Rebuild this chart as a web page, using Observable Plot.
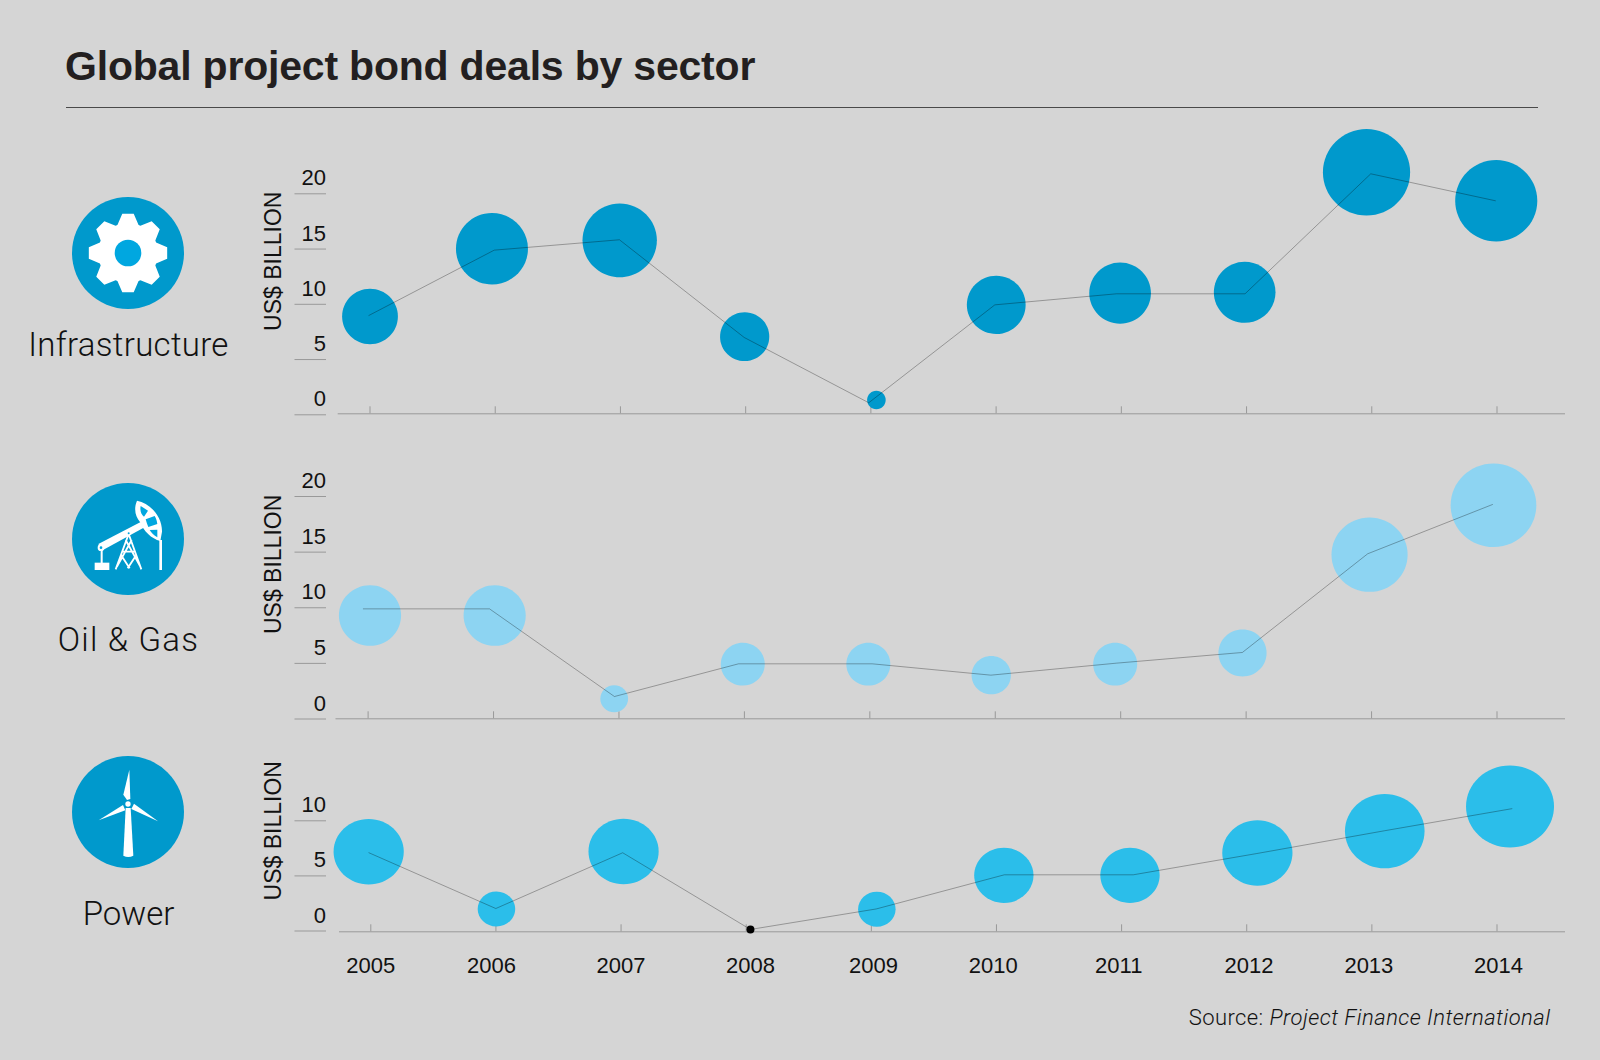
<!DOCTYPE html>
<html>
<head>
<meta charset="utf-8">
<script src="https://cdn.jsdelivr.net/npm/d3@7"></script>
<script src="https://cdn.jsdelivr.net/npm/@observablehq/plot@0.6"></script>
<style>
  html, body { margin: 0; padding: 0; background: #d5d5d5; }
  #page { position: relative; width: 1600px; height: 1060px; background: #d5d5d5; overflow: hidden; color: #111; font-family: "Liberation Sans", sans-serif; }
  #title { position: absolute; left: 65px; top: 43px; margin: 0; font: bold 41px/46px "Liberation Sans", sans-serif; letter-spacing: -0.2px; color: #231f20; white-space: nowrap; }
  #rule { position: absolute; left: 66px; top: 107px; width: 1472px; height: 1px; background: #4a4a4a; }
  .sector { position: absolute; width: 240px; left: 8.5px; text-align: center; font: 300 33px/40px Roboto, sans-serif; color: #111; white-space: nowrap; }
  #source { position: absolute; right: 49.5px; top: 1004px; font: 300 22px/28px Roboto, sans-serif; letter-spacing: 0.4px; color: #111; white-space: nowrap; }
  #source i { letter-spacing: 0.47px; }
  .panel { position: absolute; left: 0; }
  .icon { position: absolute; left: 68.3px; width: 120px; height: 120px; }
</style>
</head>
<body>
<div id="page">
  <h1 id="title">Global project bond deals by sector</h1>
  <div id="rule"></div>

  <svg class="icon" id="gearIcon" style="top:193px" viewBox="-60 -60 120 120"></svg>
  <div class="sector" style="top:325px; letter-spacing:0.3px">Infrastructure</div>

  <svg class="icon" style="top:479px" viewBox="0 0 360 360">
    <circle cx="180" cy="180" r="168" fill="#0099cc"/>
    <g transform="translate(-85,-57)">
      <rect x="165" y="308" width="44" height="22" fill="#fff"/>
      <rect x="183" y="268" width="6" height="42" fill="#fff"/>
      <path d="M176 252 L303 186 L312 203 L190 270 Z" fill="#fff"/>
      <circle cx="184" cy="263" r="10" fill="#fff"/>
      <circle cx="184" cy="263" r="4" fill="#00a7e0"/>
      <path d="M292 122 C332 130 368 170 367 215 L362 243 C335 236 312 214 301 186 C288 170 281 148 292 122 Z" fill="#fff"/>
      <path d="M303 138 L325 152 L313 170 C305 164 300 152 303 138 Z M318 178 L345 168 C350 176 352 184 353 192 L326 201 C323 194 320 186 318 178 Z M330 210 L353 209 L353 232 C343 226 335 218 330 210 Z" fill="#00a7e0"/>
      <rect x="359" y="240" width="8" height="90" fill="#fff"/>
      <path d="M267 222 L228 328 M267 222 L305 328 M258 240 L302 320 M276 240 L232 320 M244 285 L270 325 M290 285 L264 325 M247 275 L287 275" stroke="#fff" stroke-width="5.5" fill="none"/>
      <circle cx="267" cy="220" r="7" fill="#fff"/>
      <circle cx="267" cy="220" r="3" fill="#00a7e0"/>
    </g>
  </svg>
  <div class="sector" style="top:620px; letter-spacing:1.2px">Oil &amp; Gas</div>

  <svg class="icon" style="top:752.3px" viewBox="0 0 360 360">
    <circle cx="180" cy="180" r="168" fill="#0099cc"/>
    <g transform="translate(-85,-37)" fill="#fff">
      <path d="M258 205 L273 205 L281 348 Q266 356 251 348 Z"/>
      <path d="M269 90 L272 178 L262 181 L251 165 Z"/>
      <path d="M177 242 L250 196 L257 212 Z"/>
      <path d="M355 245 L283 192 L275 208 Z"/>
      <circle cx="265" cy="193" r="8"/>
    </g>
  </svg>
  <div class="sector" style="top:894px">Power</div>

  <div class="panel" id="p1" style="top:110px"></div>
  <div class="panel" id="p2" style="top:440px"></div>
  <div class="panel" id="p3" style="top:740px"></div>

  <div id="source">Source: <i>Project Finance International</i></div>
</div>
<script>
// Data ----------------------------------------------------------------------
const years = [2005, 2006, 2007, 2008, 2009, 2010, 2011, 2012, 2013, 2014];
const yearLabels = ["2005", "2006", "2007", "2008", "2009", "2010", "2011", "2012", "2013", "2014"];
const yearLabelAt = [2005.0, 2005.965, 2006.999, 2008.035, 2009.018, 2009.974, 2010.977, 2012.018, 2012.976, 2014.012];

// Deal values (US$ billion) — these size the bubbles
const infraValues = [9, 15, 16, 7, 1, 10, 11, 11, 22, 19.5];
const oilValues = [10, 10, 2, 5, 5, 4, 5, 6, 15, 19];
const powerValues = [7, 2, 7, 0, 2, 5, 5, 7, 9, 11];

// The connecting line, as drawn in the original (year, US$ billion)
const infraLineYear = [2004.991, 2005.992, 2006.992, 2007.988, 2008.983, 2009.99, 2010.961, 2011.988, 2012.992, 2013.987];
const infraLineValue = [8.99, 14.9, 15.84, 7.0, 1.09, 9.95, 10.95, 10.95, 21.81, 19.37];
const oilLineYear = [2004.962, 2005.968, 2006.964, 2007.953, 2009.019, 2009.965, 2010.967, 2011.97, 2012.969, 2013.964];
const oilLineValue = [9.9, 9.9, 2.02, 4.96, 4.96, 3.94, 5.02, 5.98, 14.85, 19.28];
const powerLineYear = [2004.985, 2005.999, 2007.013, 2008.034, 2009.039, 2010.063, 2011.093, 2012.081, 2013.103, 2014.119];
const powerLineValue = [7.1, 2.04, 7.1, 0.14, 2.0, 5.1, 5.1, 7.03, 9.1, 11.1];

// The bubble centres, as drawn in the original (year, US$ billion)
const infraBubbleYear = [2005, 2005.974, 2006.994, 2007.992, 2009.044, 2010.001, 2010.99, 2011.985, 2012.958, 2013.994];
const infraBubbleLevel = [8.9, 15.03, 15.79, 7.07, 1.34, 9.95, 11.02, 11.09, 21.95, 19.37];
const oilBubbleYear = [2005.015, 2006.009, 2006.962, 2007.987, 2008.988, 2009.968, 2010.956, 2011.971, 2012.984, 2013.972];
const oilBubbleLevel = [9.3, 9.3, 1.82, 4.93, 4.93, 3.94, 4.93, 5.93, 14.77, 19.21];
const powerBubbleYear = [2004.983, 2006.004, 2007.02, 2008.034, 2009.044, 2010.059, 2011.067, 2012.085, 2013.103, 2014.104];
const powerBubbleLevel = [7.19, 2.0, 7.21, 0.14, 1.98, 5.05, 5.05, 7.08, 9.06, 11.3];

const ticksFull = [0, 5, 10, 15, 20];
const ticksShort = [0, 5, 10];

// Helpers -------------------------------------------------------------------
const textFont = "'Liberation Sans', sans-serif";
const rows = (xs, ys, vs) => xs.map((x, i) => ({x, y: ys[i], v: vs ? vs[i] : null}));

// An ellipse symbol: the original's bubbles were stretched a little per panel
function ellipseSymbol(aspect) {
  return {
    draw(ctx, size) {
      const ry = Math.sqrt(size / Math.PI), rx = ry * aspect, k = 0.5523;
      ctx.moveTo(-rx, 0);
      ctx.bezierCurveTo(-rx, -k * ry, -k * rx, -ry, 0, -ry);
      ctx.bezierCurveTo(k * rx, -ry, rx, -k * ry, rx, 0);
      ctx.bezierCurveTo(rx, k * ry, k * rx, ry, 0, ry);
      ctx.bezierCurveTo(-k * rx, ry, -rx, k * ry, -rx, 0);
      ctx.closePath();
    }
  };
}

function panel(o) {
  const marks = [
    Plot.frame({anchor: "bottom", stroke: "#999", strokeWidth: 1}),
    Plot.axisX({ticks: years, tickSize: -7, stroke: "#999", fill: "none", label: null}),
    Plot.axisY({ticks: o.yTicks, tickSize: 31.5, dx: 326 - o.left, stroke: "#999", fill: "none", label: null}),
    Plot.axisY({
      ticks: o.yTicks, tickSize: 0, tickPadding: 0, dx: 325.5 - o.left, dy: -8.5,
      fill: "#111", label: null, fontSize: 22, lineAnchor: "bottom"
    }),
    Plot.dot(rows(o.bubbleYear, o.bubbleLevel, o.values), {
      x: "x", y: "y", r: "v", fill: o.color, stroke: "none", symbol: ellipseSymbol(o.aspect)
    }),
    Plot.text(["US$ BILLION"], {
      frameAnchor: "left", y: o.labelLevel, dx: 280 - o.left, rotate: -90, textAnchor: "middle",
      lineAnchor: "bottom", fontSize: 23, fill: "#111"
    }),
    Plot.line(rows(o.lineYear, o.lineValue), {
      x: "x", y: "y", stroke: "#000", strokeOpacity: 0.38, strokeWidth: 0.8
    })
  ];
  return Plot.plot({
    width: 1600, height: o.height,
    marginLeft: o.left, marginRight: 36, marginTop: 0, marginBottom: o.bottom,
    style: {background: "transparent", fontFamily: textFont, overflow: "visible"},
    x: {domain: [2005, 2014], range: o.xRange, axis: null},
    y: {domain: o.yDomain, range: o.yRange, axis: null},
    r: {domain: o.rDomain, range: o.rRange},
    marks: [...marks, ...(o.after || [])]
  });
}

document.getElementById("p1").append(panel({
  height: 320, left: 337.7, bottom: 16.7,
  xRange: [369.5, 1496.5], yDomain: [0, 20], yRange: [304.3, 83.3], yTicks: ticksFull,
  rDomain: [0, 22], rRange: [0, 43.3], aspect: 1.007, color: "#0099cc", labelLevel: 13.9,
  values: infraValues, bubbleYear: infraBubbleYear, bubbleLevel: infraBubbleLevel,
  lineYear: infraLineYear, lineValue: infraLineValue
}));

document.getElementById("p2").append(panel({
  height: 295, left: 335.5, bottom: 16.7,
  xRange: [367.6, 1496.5], yDomain: [0, 20], yRange: [278.5, 56], yTicks: ticksFull,
  rDomain: [0, 19], rRange: [0, 41.8], aspect: 1.025, color: "#8dd4f2", labelLevel: 13.9,
  values: oilValues, bubbleYear: oilBubbleYear, bubbleLevel: oilBubbleLevel,
  lineYear: oilLineYear, lineValue: oilLineValue
}));

const zeroDeal = years.map((y, i) => ({x: powerBubbleYear[i], y: powerBubbleLevel[i], v: powerValues[i]})).filter(d => d.v === 0);
document.getElementById("p3").append(panel({
  height: 245, left: 339, bottom: 53.7,
  xRange: [370.3, 1496.5], yDomain: [0, 10], yRange: [190.5, 80.3], yTicks: ticksShort,
  rDomain: [0, 11], rRange: [0, 41.0], aspect: 1.073, color: "#2bbeea", labelLevel: 9.1,
  values: powerValues, bubbleYear: powerBubbleYear, bubbleLevel: powerBubbleLevel,
  lineYear: powerLineYear, lineValue: powerLineValue,
  after: [
    Plot.dot(zeroDeal, {x: "x", y: "y", r: 4, fill: "#000", stroke: "none"}),
    Plot.text(yearLabels, {
      x: (d, i) => yearLabelAt[i], text: d => d, frameAnchor: "bottom",
      lineAnchor: "bottom", dy: 41, fontSize: 22, fill: "#111"
    })
  ]
}));

// The gear icon -------------------------------------------------------------
(function () {
  const svgNS = "http://www.w3.org/2000/svg";
  const host = document.getElementById("gearIcon");
  const add = (tag, attrs) => {
    const el = document.createElementNS(svgNS, tag);
    for (const k in attrs) el.setAttribute(k, attrs[k]);
    host.append(el);
  };
  add("circle", {cx: 0, cy: 0, r: 56, fill: "#0099cc"});
  const pts = [];
  for (let t = 0; t < 8; t++) {
    const a = t * Math.PI / 4 - Math.PI / 2;
    for (const [r, da] of [[30, -0.36], [39.6, -0.145], [39.6, 0.145], [30, 0.36]]) {
      pts.push([r * Math.cos(a + da), r * Math.sin(a + da)].map(v => v.toFixed(2)).join(","));
    }
  }
  add("polygon", {points: pts.join(" "), fill: "#fff"});
  add("circle", {cx: 0, cy: 0, r: 13.3, fill: "#00a7e0"});
})();
</script>
</body>
</html>
